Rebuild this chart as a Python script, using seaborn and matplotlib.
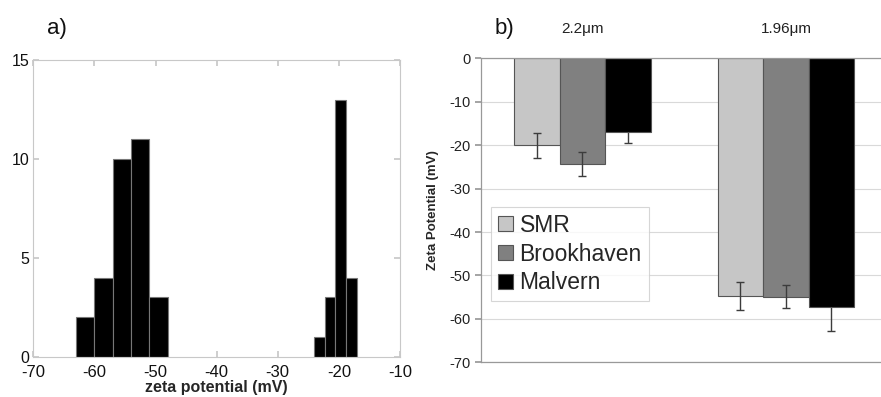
import numpy as np
import pandas as pd
import matplotlib
matplotlib.use("Agg")
import matplotlib.pyplot as plt
import seaborn as sns

# ---------------- data ----------------
# panel a) histogram of zeta potential
bin_edges_low = [-63, -60, -57, -54, -51, -48]
counts_low = [2, 4, 10, 11, 3]
bin_edges_high = [-24.0, -22.3, -20.6, -18.8, -17.1]
counts_high = [1, 3, 13, 4]

# panel b) bar chart
sizes = ["2.2\u03bcm", "1.96\u03bcm"]
methods = ["SMR", "Brookhaven", "Malvern"]
means_22 = [-20.0, -24.3, -17.0]
means_196 = [-54.7, -54.9, -57.2]
errs_22 = [2.9, 2.7, 2.6]
errs_196 = [3.2, 2.7, 5.7]
method_colors = ["#c6c6c6", "#808080", "#000000"]

sns.set_theme(style="white")
plt.rcParams["font.family"] = ["Liberation Sans", "DejaVu Sans"]
plt.rcParams["axes.unicode_minus"] = False

fig = plt.figure(figsize=(8.81, 3.97), dpi=100)

# ---------------- panel a ----------------
axa = fig.add_axes([0.0378, 0.1015, 0.4162, 0.7475])
centers_low = [(a + b) / 2 for a, b in zip(bin_edges_low[:-1], bin_edges_low[1:])]
centers_high = [(a + b) / 2 for a, b in zip(bin_edges_high[:-1], bin_edges_high[1:])]
sns.histplot(x=centers_low, weights=counts_low, bins=bin_edges_low, ax=axa,
             color="black", alpha=1, edgecolor="#777777", linewidth=0.8)
sns.histplot(x=centers_high, weights=counts_high, bins=bin_edges_high, ax=axa,
             color="black", alpha=1, edgecolor="#777777", linewidth=0.8)
axa.set_xlim(-70, -10)
axa.set_ylim(0, 15)
axa.set_xticks(np.arange(-70, -9, 10))
axa.set_yticks([0, 5, 10, 15])
axa.set_ylabel("")
axa.set_xlabel("zeta potential (mV)", fontsize=11.5, fontweight="bold", labelpad=0)
for s in axa.spines.values():
    s.set_visible(True)
    s.set_color("#c8c8c8")
    s.set_linewidth(0.8)
axa.tick_params(axis="both", direction="in", length=4, color="#c8c8c8",
                labelsize=12, top=True, right=True, bottom=True, left=True,
                labelcolor="#111111")
axa.tick_params(axis="x", pad=6)
axa.tick_params(axis="y", pad=3, labelsize=11.5)
fig.text(0.053, 0.915, "a)", fontsize=16, color="#111111")

# ---------------- panel b ----------------
axb = fig.add_axes([0.5456, 0.0874, 0.4620, 0.7656])
rows = []
for sz, means, errs in [(sizes[0], means_22, errs_22), (sizes[1], means_196, errs_196)]:
    for m, v, e in zip(methods, means, errs):
        rows.append({"size": sz, "method": m, "value": v, "err": e})
df = pd.DataFrame(rows)
sns.barplot(data=df, x="size", y="value", hue="method", hue_order=methods,
            order=sizes, palette=method_colors, width=0.67, errorbar=None,
            edgecolor="#555555", linewidth=0.8, saturation=1, ax=axb, zorder=2)
# error bars at bar centres (hidden inside the black bars, as in the original)
for cont, m in zip(axb.containers, methods):
    sub = df[df["method"] == m].set_index("size").loc[sizes]
    xs = [p.get_x() + p.get_width() / 2 for p in cont.patches]
    z = 1.5 if m == "Malvern" else 3
    axb.errorbar(xs, sub["value"].values, yerr=sub["err"].values, fmt="none",
                 ecolor="#3c3c3c", elinewidth=1.0, capsize=3, capthick=1.0, zorder=z)
axb.set_ylim(-70, 0)
axb.set_xlim(-0.5, 1.5)
axb.set_yticks(np.arange(-70, 1, 10))
axb.yaxis.grid(True, color="#d9d9d9", linewidth=0.8)
axb.set_axisbelow(True)
axb.xaxis.tick_top()
axb.set_xlabel("")
axb.set_ylabel("Zeta Potential (mV)", fontsize=9.5, fontweight="bold", labelpad=8)
axb.tick_params(axis="x", length=0, labelsize=11, pad=16, labelcolor="#222222")
axb.tick_params(axis="y", length=4, direction="out", color="#999999",
                labelsize=10.5, pad=3, left=True, labelcolor="#222222")
for k in ["left", "bottom", "top"]:
    axb.spines[k].set_visible(True)
    axb.spines[k].set_color("#999999")
    axb.spines[k].set_linewidth(0.9)
axb.spines["right"].set_visible(False)
leg = axb.legend(loc="upper left", bbox_to_anchor=(0.025, 0.511), fontsize=16.5,
                 frameon=True, fancybox=False, edgecolor="#cccccc",
                 handlelength=0.65, handleheight=0.65, handletextpad=0.3,
                 labelspacing=0.25, borderpad=0.3, borderaxespad=0)
leg.get_frame().set_linewidth(0.8)
fig.text(0.561, 0.915, "b)", fontsize=16, color="#111111")

fig.savefig("out.png", dpi=100)
